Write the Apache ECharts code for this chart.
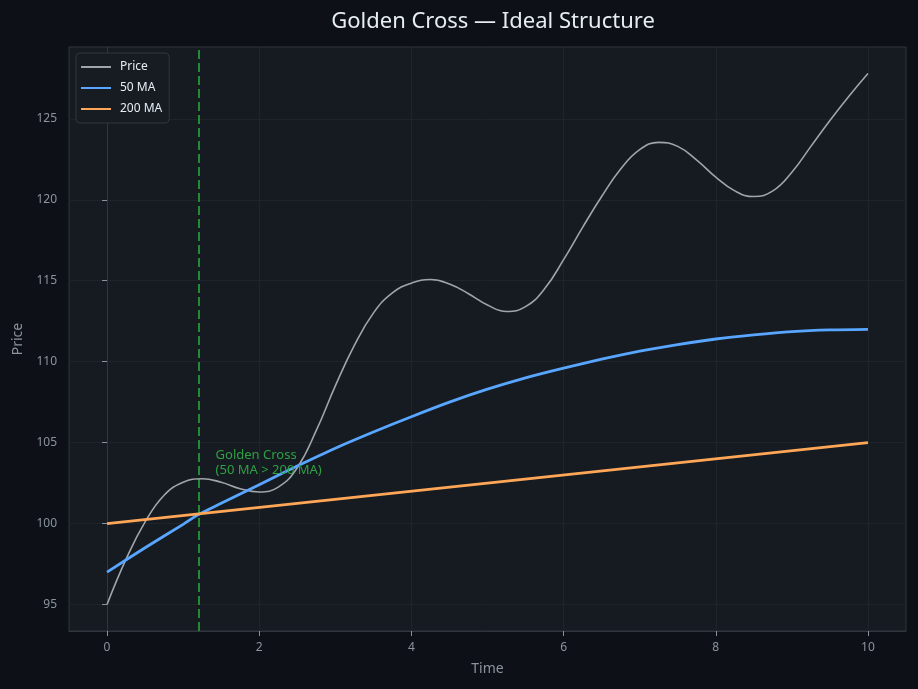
<!DOCTYPE html>
<html>
<head>
<meta charset="utf-8">
<script src="https://cdn.jsdelivr.net/npm/echarts@6/dist/echarts.min.js"></script>
<style>
html,body{margin:0;padding:0;background:#0d1117;}
#chart{width:918px;height:689px;}
</style>
</head>
<body>
<div id="chart"></div>
<script>
// ---- data ----
const priceTimes = [0,0.25,0.5,0.75,1,1.25,1.5,1.75,2,2.25,2.5,2.75,3,3.25,3.5,3.75,4,4.25,4.5,4.75,5,5.25,5.5,5.75,6,6.25,6.5,6.75,7,7.25,7.5,7.75,8,8.25,8.5,8.75,9,9.25,9.5,9.75,10];
const priceValues = [95,97.8,100.1,101.75,102.55,102.77,102.55,102.15,101.95,102.25,103.45,105.75,108.5,111.0,113.0,114.25,114.85,115.08,114.8,114.2,113.5,113.1,113.4,114.5,116.3,118.3,120.2,121.9,123.1,123.55,123.3,122.45,121.4,120.55,120.2,120.55,121.7,123.3,124.9,126.4,127.8];
const maTimes = [0,0.5,1,1.2,1.5,2,2.5,3,3.5,4,4.5,5,5.5,6,6.5,7,7.5,8,8.5,9,9.5,10];
const ma50Values = [97,98.5,99.95,100.55,101.25,102.4,103.55,104.65,105.65,106.6,107.5,108.3,109,109.6,110.15,110.65,111.05,111.4,111.65,111.85,111.96,112];
const ma200Times = [0,10];
const ma200Values = [100,105];
const crossTime = 1.2;
const annotationPoint = [1.42, 103.75];
const annotationText = 'Golden Cross\n(50 MA > 200 MA)';
const xTicks = [0,2,4,6,8,10];
const yTicks = [95,100,105,110,115,120,125];
const xRange = [-0.5, 10.5];
const yRange = [93.36, 129.44];

const zip = (a, b) => a.map((v, i) => [v, b[i]]);

const FONT = 'Noto Sans';
const tickColor = '#8b949e';
const gridColor = '#1f242b';
const spineColor = '#30363d';

const chart = echarts.init(document.getElementById('chart'), null, {renderer: 'canvas'});
chart.setOption({
  backgroundColor: '#0d1117',
  animation: false,
  textStyle: {fontFamily: FONT},
  title: {
    text: 'Golden Cross — Ideal Structure',
    left: 488, top: 6, textAlign: 'center',
    textStyle: {color: '#e6edf3', fontSize: 22, fontWeight: 'normal', fontFamily: FONT}
  },
  grid: {
    left: 69, right: 12, top: 47, bottom: 58,
    show: true, backgroundColor: '#161b22', borderColor: spineColor, borderWidth: 1
  },
  legend: {
    left: 76, top: 53, orient: 'vertical',
    padding: [8, 7, 8, 4], itemGap: 9, itemWidth: 30, itemHeight: 10,
    backgroundColor: '#171c23', borderColor: '#30363d', borderWidth: 1, borderRadius: 4,
    itemStyle: {opacity: 0},
    textStyle: {color: '#e6edf3', fontSize: 12, fontFamily: FONT, padding: [0, 0, 0, 4]},
    data: ['Price', '50 MA', '200 MA']
  },
  xAxis: {
    type: 'value', min: xRange[0], max: xRange[1],
    name: 'Time', nameLocation: 'middle', nameGap: 31,
    nameTextStyle: {color: tickColor, fontSize: 14, fontFamily: FONT},
    axisLine: {show: true, lineStyle: {color: spineColor}},
    axisTick: {show: true, length: 5, lineStyle: {color: tickColor}, customValues: xTicks},
    axisLabel: {color: tickColor, fontSize: 12, margin: 11, customValues: xTicks, fontFamily: FONT},
    splitLine: {show: true, lineStyle: {color: gridColor, width: 1}}
  },
  yAxis: {
    type: 'value', min: yRange[0], max: yRange[1],
    name: 'Price', nameLocation: 'middle', nameGap: 42, nameRotate: 90,
    nameTextStyle: {color: tickColor, fontSize: 14, fontFamily: FONT},
    axisLine: {show: true, lineStyle: {color: spineColor}},
    axisTick: {show: true, length: 5, lineStyle: {color: tickColor}, customValues: yTicks},
    axisLabel: {color: tickColor, fontSize: 12, margin: 12, customValues: yTicks, fontFamily: FONT},
    splitLine: {show: true, lineStyle: {color: gridColor, width: 1}}
  },
  series: [
    {
      name: 'Price', type: 'line', data: zip(priceTimes, priceValues),
      smooth: 0.45, symbol: 'none', z: 3,
      lineStyle: {color: '#a0a5ab', width: 1.6},
      itemStyle: {color: '#a0a5ab'},
      markLine: {
        silent: true, symbol: 'none', z: 1,
        label: {show: false},
        lineStyle: {color: '#238b35', width: 2, type: [9, 4]},
        data: [{xAxis: crossTime}]
      },
      markPoint: {
        silent: true,
        data: [{
          coord: annotationPoint, symbol: 'circle', symbolSize: 1,
          itemStyle: {color: 'rgba(0,0,0,0)'},
          label: {show: true, position: 'right', distance: 0, formatter: annotationText,
            color: '#2ea043', fontSize: 13, lineHeight: 15, align: 'left', fontFamily: FONT}
        }]
      }
    },
    {
      name: '50 MA', type: 'line', data: zip(maTimes, ma50Values),
      smooth: 0.3, symbol: 'none', z: 4,
      lineStyle: {color: '#58a6ff', width: 2.8},
      itemStyle: {color: '#58a6ff'}
    },
    {
      name: '200 MA', type: 'line', data: zip(ma200Times, ma200Values),
      symbol: 'none', z: 4,
      lineStyle: {color: '#ffa657', width: 2.8},
      itemStyle: {color: '#ffa657'}
    }
  ]
});
</script>
</body>
</html>
